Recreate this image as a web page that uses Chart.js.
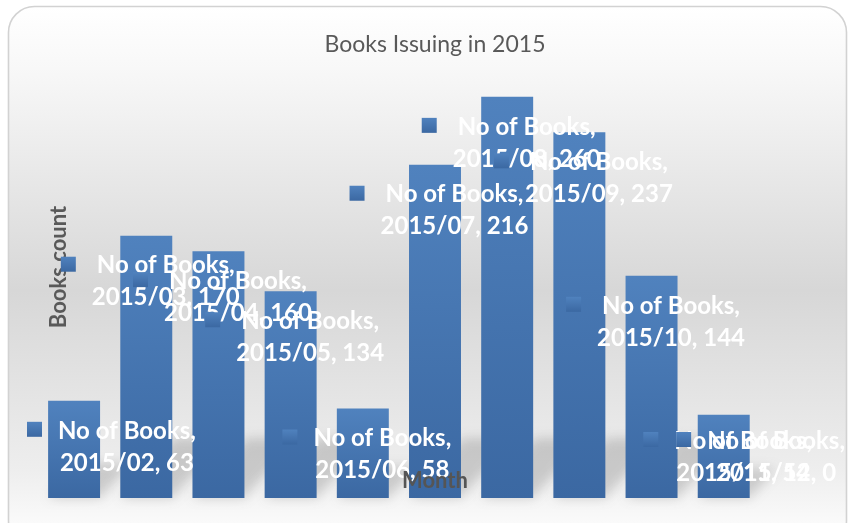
<!DOCTYPE html>
<html>
<head>
<meta charset="utf-8">
<script src="https://cdn.jsdelivr.net/npm/chart.js@4/dist/chart.umd.min.js"></script>
<style>
  html, body { margin: 0; padding: 0; background: #ffffff; }
  canvas { display: block; }
</style>
</head>
<body>
<canvas id="chart" width="849" height="523"></canvas>
<script>
const months = ['2015/02', '2015/03', '2015/04', '2015/05', '2015/06', '2015/07',
                '2015/08', '2015/09', '2015/10', '2015/11', '2015/12'];
const books = [63, 170, 160, 134, 58, 216, 260, 237, 144, 54, 0];
const seriesName = 'No of Books';
const chartTitle = 'Books Issuing in 2015';
const xTitle = 'Month';
const yTitle = 'Books count';

const FONT = 'Lato, "Open Sans", sans-serif';

function blueGradient(ctx, top, bottom) {
    const g = ctx.createLinearGradient(0, top, 0, bottom);
    g.addColorStop(0, '#5082be');
    g.addColorStop(1, '#3b68a2');
    return g;
}

// rounded frame with the grey Excel style fill
const framePlugin = {
    id: 'frame',
    beforeDraw(chart) {
        const ctx = chart.ctx;
        const x = 8.5, y = 6.5, w = 838, h = 540, r = 26;
        ctx.save();
        ctx.beginPath();
        ctx.roundRect(x, y, w, h, r);
        const g = ctx.createLinearGradient(0, y, 0, 523);
        g.addColorStop(0, '#ffffff');
        g.addColorStop(0.12, '#f8f8f8');
        g.addColorStop(0.55, '#d7d7d7');
        g.addColorStop(0.9, '#eeeeee');
        g.addColorStop(1, '#fafafa');
        ctx.fillStyle = g;
        ctx.fill();
        ctx.lineWidth = 1.6;
        ctx.strokeStyle = '#d2d2d2';
        ctx.stroke();

        // title
        ctx.fillStyle = '#595959';
        ctx.font = '23px ' + FONT;
        ctx.textAlign = 'center';
        ctx.textBaseline = 'middle';
        ctx.fillText(chartTitle, 435, 45);
        ctx.restore();
    },
    beforeDatasetsDraw(chart) {
        // soft perspective shadows behind the bars
        const ctx = chart.ctx;
        const meta = chart.getDatasetMeta(0);
        const base = chart.scales.y.getPixelForValue(0);
        ctx.save();
        ctx.filter = 'blur(6px)';
        ctx.fillStyle = 'rgba(70,70,70,0.22)';
        meta.data.forEach((bar) => {
            const hgt = base - bar.y;
            if (hgt <= 0) return;
            const left = bar.x - bar.width / 2;
            const right = bar.x + bar.width / 2;
            const sh = Math.min(hgt * 0.35, 60);
            ctx.beginPath();
            ctx.moveTo(left, base);
            ctx.lineTo(right, base);
            ctx.lineTo(right + sh * 0.9, base - sh);
            ctx.lineTo(left + sh * 0.9, base - sh);
            ctx.closePath();
            ctx.fill();
        });
        ctx.restore();
    }
};

// Excel-like data labels with legend key, plus axis titles
const labelPlugin = {
    id: 'barLabels',
    afterDatasetsDraw(chart) {
        const ctx = chart.ctx;
        const meta = chart.getDatasetMeta(0);
        ctx.save();
        ctx.textBaseline = 'middle';

        // y axis title
        ctx.fillStyle = '#595959';
        ctx.font = 'bold 22px ' + FONT;
        ctx.textAlign = 'center';
        ctx.save();
        ctx.translate(59, 267);
        ctx.rotate(-Math.PI / 2);
        ctx.fillText(yTitle, 0, 0);
        ctx.restore();

        ctx.font = 'bold 24px ' + FONT;
        meta.data.forEach((bar, i) => {
            const line1 = seriesName + ',';
            const line2 = months[i] + ', ' + books[i];
            const tw = Math.max(ctx.measureText(line1).width, ctx.measureText(line2).width);
            const key = 15, gap = 16;
            const blockW = key + gap + tw;
            let left = bar.x - blockW / 2 + 4;
            left = Math.max(27, Math.min(left, 845 - blockW));
            let y1 = bar.y + 30;
            y1 = Math.min(y1, 441);
            const y2 = y1 + 32;

            ctx.fillStyle = blueGradient(ctx, y1 - 9, y1 + 6);
            ctx.fillRect(left, y1 - 9, key, key);

            const cx = left + key + gap + tw / 2;
            ctx.fillStyle = '#ffffff';
            ctx.textAlign = 'center';
            ctx.fillText(line1, cx, y1);
            ctx.fillText(line2, cx, y2);
        });

        // x axis title sits on top of the labels
        ctx.fillStyle = '#555555';
        ctx.font = 'bold 22px ' + FONT;
        ctx.textAlign = 'center';
        ctx.fillText(xTitle, 435, 481);
        ctx.restore();
    }
};

const ctx = document.getElementById('chart').getContext('2d');
new Chart(ctx, {
    type: 'bar',
    data: {
        labels: months,
        datasets: [{
            label: seriesName,
            data: books,
            backgroundColor: (c) => {
                const chart = c.chart;
                if (!chart.chartArea || c.type !== 'data') return '#4a7ab6';
                const top = chart.scales.y.getPixelForValue(books[c.dataIndex]);
                const bottom = chart.scales.y.getPixelForValue(0);
                return blueGradient(chart.ctx, top, bottom);
            },
            borderWidth: 0,
            barPercentage: 0.72,
            categoryPercentage: 1
        }]
    },
    options: {
        responsive: false,
        animation: false,
        layout: {
            padding: { left: 38, right: 17, top: 66, bottom: 25 }
        },
        plugins: {
            legend: { display: false },
            title: { display: false },
            tooltip: { enabled: false }
        },
        scales: {
            x: { display: false },
            y: { display: false, min: 0, max: 280 }
        }
    },
    plugins: [framePlugin, labelPlugin]
});
</script>
</body>
</html>
